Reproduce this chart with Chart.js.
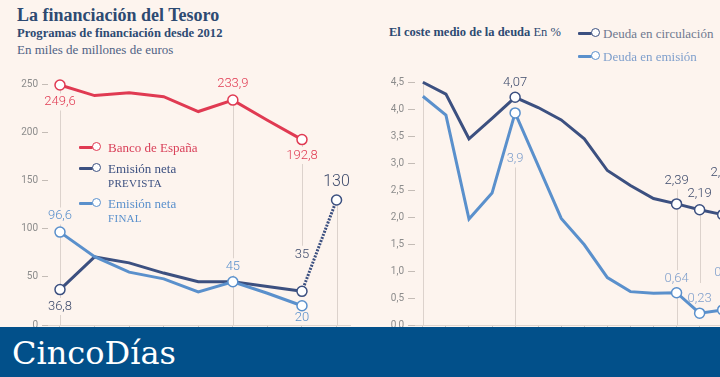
<!DOCTYPE html>
<html>
<head>
<meta charset="utf-8">
<script src="https://cdn.jsdelivr.net/npm/chart.js@4.4.0/dist/chart.umd.min.js"></script>
<style>
  body { margin: 0; width: 720px; height: 377px; overflow: hidden; background: #fdf4ee; position: relative; font-family: "Liberation Serif", serif; }
  .txt { position: absolute; white-space: nowrap; line-height: 1; }
  #titulo { left: 17px; top: 6px; font-size: 18px; font-weight: bold; color: #2d4a72; }
  #subtitulo { left: 17px; top: 27px; font-size: 12.6px; font-weight: bold; color: #2d4a72; }
  #nota { left: 17px; top: 43px; font-size: 13px; color: #4f6285; }
  #tituloDer { left: 389px; top: 26px; font-size: 12.5px; font-weight: bold; color: #2d4a72; }
  #tituloDer span { font-weight: normal; }
  .caja { position: absolute; }
  #grafIzq { left: 0; top: 60px; width: 360px; height: 280px; }
  #grafDer { left: 370px; top: 60px; width: 420px; height: 280px; }
  .marca { position: absolute; height: 10px; width: 24px; }
  .marca i { position: absolute; left: 0; top: 3.5px; width: 14px; height: 3px; border-radius: 1px; }
  .marca b { position: absolute; left: 13px; top: 0; width: 7px; height: 7px; border-radius: 50%; background: #fff; border: 1.5px solid; }
  #pie { position: absolute; left: 0; top: 327px; width: 720px; height: 50px; background: #02508a; z-index: 5; }
  #pie span { position: absolute; left: 12px; top: 7px; font-family: "DejaVu Serif", serif; font-size: 32px; color: #fff; }
</style>
</head>
<body>
<div class="txt" id="titulo">La financiación del Tesoro</div>
<div class="txt" id="subtitulo">Programas de financiación desde 2012</div>
<div class="txt" id="nota">En miles de millones de euros</div>
<div class="txt" id="tituloDer">El coste medio de la deuda <span>En %</span></div>

<div class="caja" id="grafIzq"><canvas id="izq"></canvas></div>
<div class="caja" id="grafDer"><canvas id="der"></canvas></div>

<div class="marca" style="left:79px;top:142px"><i style="background:#e03a52"></i><b style="border-color:#e03a52"></b></div>
<div class="txt" style="left:108px;top:141px;font-size:13px;color:#d9415a">Banco de España</div>
<div class="marca" style="left:79px;top:163px"><i style="background:#3c5080"></i><b style="border-color:#3c5080"></b></div>
<div class="txt" style="left:108px;top:162px;font-size:13px;color:#3c5080">Emisión neta</div>
<div class="txt" style="left:108px;top:178px;font-size:11px;color:#3c5080;letter-spacing:0.3px">PREVISTA</div>
<div class="marca" style="left:79px;top:198px"><i style="background:#5a90cc"></i><b style="border-color:#5a90cc"></b></div>
<div class="txt" style="left:108px;top:197px;font-size:13px;color:#5a90cc">Emisión neta</div>
<div class="txt" style="left:108px;top:213px;font-size:11px;color:#5a90cc;letter-spacing:0.3px">FINAL</div>

<div class="marca" style="left:578px;top:28px"><i style="background:#3c5080"></i><b style="border-color:#3c5080"></b></div>
<div class="txt" style="left:603px;top:27px;font-size:13px;color:#6f7990">Deuda en circulación</div>
<div class="marca" style="left:578px;top:51px"><i style="background:#5a90cc"></i><b style="border-color:#5a90cc"></b></div>
<div class="txt" style="left:603px;top:50px;font-size:13px;color:#7f9fcc">Deuda en emisión</div>

<div id="pie"><span>CincoDías</span></div>

<script>
// Programas de financiación (miles de millones de euros)
const anios = ['2012', '2013', '2014', '2015', '2016', '2017', '2018', '2019', '2020'];
const bancoEspana = [249.6, 238.6, 241.5, 237.5, 222, 233.9, 213, 192.8, null];
const emisionPrevista = [36.8, 70.8, 64.6, 54, 45, 45, 40, 35, 130];
const emisionFinal = [96.6, 71, 55, 48, 34.5, 45, 33, 20, null];
const etqBanco = ['249,6', null, null, null, null, '233,9', null, '192,8', null];
const etqPrevista = ['36,8', null, null, null, null, null, null, '35', '130'];
const etqFinal = ['96,6', null, null, null, null, '45', null, '20', null];
const ticksMiles = [0, 50, 100, 150, 200, 250];

// Coste medio de la deuda (%)
const aniosCoste = ['2007', '2008', '2009', '2010', '2011', '2012', '2013', '2014', '2015', '2016', '2017', '2018', '2019', '2020'];
const deudaCirculacion = [4.51, 4.29, 3.46, 3.84, 4.23, 4.04, 3.81, 3.46, 2.87, 2.59, 2.35, 2.25, 2.14, 2.05];
const deudaEmision = [4.25, 3.9, 1.97, 2.45, 3.94, 2.96, 1.98, 1.49, 0.88, 0.62, 0.59, 0.6, 0.22, 0.28];
const etqCirculacion = [null, null, null, null, '4,07', null, null, null, null, null, null, '2,39', '2,19', '2,11'];
const etqEmision = [null, null, null, null, '3,9', null, null, null, null, null, null, '0,64', '0,23', '0,3'];
const ticksCoste = [0, 0.5, 1, 1.5, 2, 2.5, 3, 3.5, 4, 4.5];

const rojo = '#e03a52';
const oscuro = '#3c5080';
const claro = '#5a90cc';
const guia = '#dcd2cc';
const fuenteNum = 'Roboto, "Liberation Sans", sans-serif';

function puntos(valores) {
    return valores.map((v, i) => ({ x: i, y: v }));
}

function radio(textos) {
    return ctx => textos[ctx.dataIndex] ? 5 : 0;
}

function cajasEtiquetas(chart, opts) {
    const ctx = chart.ctx;
    const cajas = [];
    opts.etiquetas.forEach(e => {
        const meta = chart.getDatasetMeta(e.ds);
        e.textos.forEach((t, i) => {
            if (!t) return;
            const p = meta.data[i];
            const tam = (e.tam && e.tam[i]) || 13;
            ctx.font = '300 ' + tam + 'px ' + fuenteNum;
            const w = ctx.measureText(t).width;
            const cy = p.y + (e.dy[i] || 0);
            cajas.push({ t: t, x: p.x - w / 2 - 2, y: cy - tam / 2 - 2, w: w + 4, h: tam + 4, cx: p.x, cy: cy, tam: tam, color: e.color });
        });
    });
    return cajas;
}

const guiasEtiquetas = {
    id: 'guiasEtiquetas',
    beforeDatasetsDraw(chart, args, opts) {
        const ctx = chart.ctx;
        const x = chart.scales.x, y = chart.scales.y;
        const cajas = cajasEtiquetas(chart, opts);
        ctx.save();
        ctx.beginPath();
        ctx.rect(0, 0, chart.width, chart.height);
        cajas.forEach(c => ctx.rect(c.x, c.y, c.w, c.h));
        ctx.clip('evenodd');
        ctx.strokeStyle = guia;
        ctx.lineWidth = 1;
        opts.guias.forEach(g => {
            const px = Math.round(x.getPixelForValue(g.i)) + 0.5;
            ctx.beginPath();
            ctx.moveTo(px, y.getPixelForValue(g.desde));
            ctx.lineTo(px, y.getPixelForValue(g.hasta));
            ctx.stroke();
        });
        ctx.restore();
    },
    afterDatasetsDraw(chart, args, opts) {
        const ctx = chart.ctx;
        ctx.save();
        ctx.textAlign = 'center';
        ctx.textBaseline = 'middle';
        cajasEtiquetas(chart, opts).forEach(c => {
            ctx.font = '300 ' + c.tam + 'px ' + fuenteNum;
            ctx.fillStyle = c.color;
            ctx.fillText(c.t, c.cx, c.cy);
        });
        ctx.restore();
    }
};

function linea(label, datos, color, textos, extra) {
    return Object.assign({
        label: label,
        data: puntos(datos),
        borderColor: color,
        borderWidth: 3,
        pointRadius: radio(textos),
        pointBackgroundColor: '#fff',
        pointBorderColor: color,
        pointBorderWidth: 1.5,
        tension: 0,
        spanGaps: false
    }, extra || {});
}

function ejes(min, max, ancho, ticksY, fmt, yMax, largoTick, ejeX) {
    return {
        x: {
            type: 'linear', min: min, max: max,
            afterBuildTicks: s => { s.ticks = ejeX.map((_, i) => ({ value: i })); },
            ticks: { display: false },
            grid: { drawOnChartArea: false, tickLength: 5, color: '#cfc6c0' },
            border: { color: '#ddd4ce' }
        },
        y: {
            min: 0, max: yMax,
            afterFit: s => { s.width = ancho; },
            afterBuildTicks: s => { s.ticks = ticksY.map(v => ({ value: v })); },
            ticks: { padding: 4, color: '#8c8c8c', font: { family: fuenteNum, size: 10 }, callback: fmt },
            grid: { drawOnChartArea: false, tickLength: largoTick, color: '#c4bcb6' },
            border: { display: false }
        }
    };
}

Chart.defaults.animation = false;

new Chart(document.getElementById('izq'), {
    type: 'line',
    data: {
        datasets: [
            linea('Banco de España', bancoEspana, rojo, etqBanco),
            linea('Emisión neta FINAL', emisionFinal, claro, etqFinal),
            linea('Emisión neta PREVISTA', emisionPrevista, oscuro, etqPrevista, {
                segment: { borderDash: c => c.p0DataIndex === 7 ? [2, 1.3] : undefined }
            })
        ]
    },
    options: {
        responsive: true,
        maintainAspectRatio: false,
        layout: { padding: { top: 15, right: 10, bottom: 10, left: 0 } },
        plugins: {
            legend: { display: false },
            tooltip: { enabled: false },
            guiasEtiquetas: {
                etiquetas: [
                    { ds: 0, textos: etqBanco, dy: { 0: 17, 5: -16, 7: 16 }, color: rojo },
                    { ds: 1, textos: etqFinal, dy: { 0: -16, 5: -15, 7: 12 }, color: claro },
                    { ds: 2, textos: etqPrevista, dy: { 0: 17, 7: -37, 8: -18 }, tam: { 8: 16 }, color: '#3d4a6b' }
                ],
                guias: [
                    { i: 0, desde: 249.6, hasta: 0 },
                    { i: 5, desde: 233.9, hasta: 0 },
                    { i: 7, desde: 192.8, hasta: 70 },
                    { i: 8, desde: 130, hasta: 0 }
                ]
            }
        },
        scales: ejes(-0.347, 8.389, 48, ticksMiles, v => v, 260, 6, anios)
    },
    plugins: [guiasEtiquetas]
});

new Chart(document.getElementById('der'), {
    type: 'line',
    data: {
        datasets: [
            linea('Deuda en circulación', deudaCirculacion, oscuro, etqCirculacion),
            linea('Deuda en emisión', deudaEmision, claro, etqEmision)
        ]
    },
    options: {
        responsive: true,
        maintainAspectRatio: false,
        layout: { padding: { top: 12, right: 0, bottom: 10, left: 0 } },
        plugins: {
            legend: { display: false },
            tooltip: { enabled: false },
            guiasEtiquetas: {
                etiquetas: [
                    { ds: 0, textos: etqCirculacion, dy: { 4: -15, 11: -23, 12: -16, 13: -42 }, color: '#3d4a6b' },
                    { ds: 1, textos: etqEmision, dy: { 4: 46, 11: -14, 12: -14, 13: -37 }, color: '#7f9fcc' }
                ],
                guias: [
                    { i: 0, desde: 4.51, hasta: 0 },
                    { i: 4, desde: 3.2, hasta: 0 },
                    { i: 11, desde: 2.6, hasta: 0 },
                    { i: 12, desde: 2.14, hasta: 0.78 },
                    { i: 13, desde: 2.6, hasta: 0 }
                ]
            }
        },
        scales: ejes(-0.341, 15.637, 45, ticksCoste, v => v.toFixed(1).replace('.', ','), 4.7, 7, aniosCoste)
    },
    plugins: [guiasEtiquetas]
});
</script>
</body>
</html>
